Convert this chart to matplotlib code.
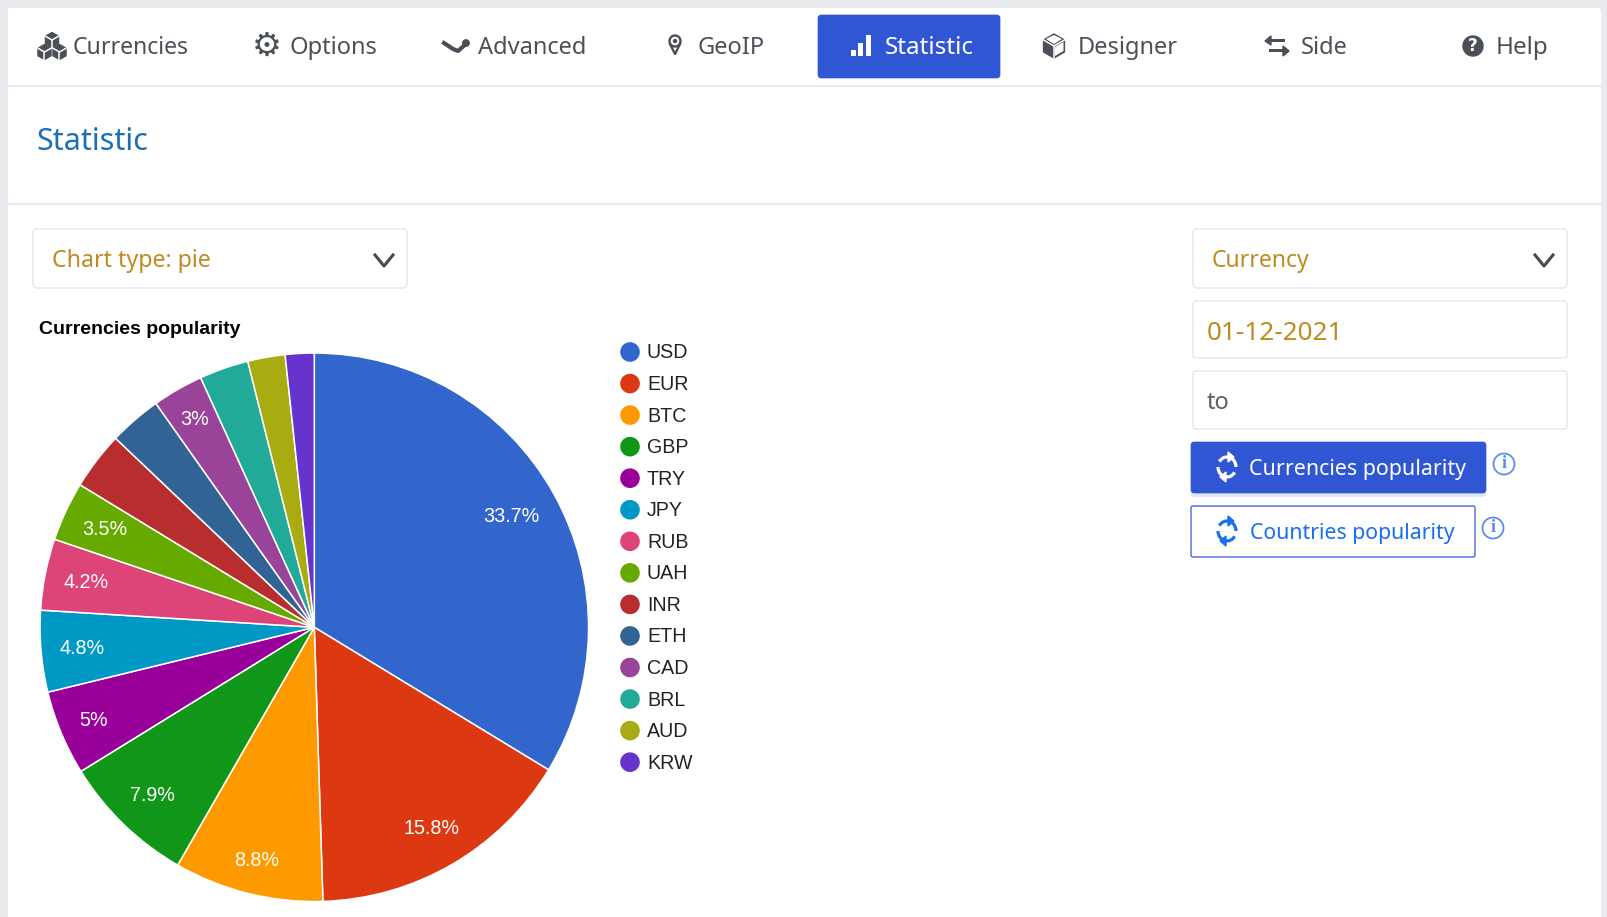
#!/usr/bin/env python

import numpy as np
import matplotlib
matplotlib.use("Agg")
import matplotlib.pyplot as plt
from matplotlib.patches import FancyBboxPatch, Rectangle, Circle, Polygon, Arc
from matplotlib.lines import Line2D

W, H = 1608, 917

currencies = ["USD", "EUR", "BTC", "GBP", "TRY", "JPY", "RUB", "UAH", "INR", "ETH", "CAD", "BRL", "AUD", "KRW"]
shares = [33.7, 15.8, 8.8, 7.9, 5.0, 4.8, 4.2, 3.5, 3.4, 3.1, 3.0, 2.9, 2.2, 1.7]
slice_labels = ["33.7%", "15.8%", "8.8%", "7.9%", "5%", "4.8%", "4.2%", "3.5%", "", "", "3%", "", "", ""]
colors = ["#3366cc", "#dc3912", "#ff9900", "#109618", "#990099", "#0099c6", "#dd4477",
          "#66aa00", "#b82e2e", "#316395", "#994499", "#22aa99", "#aaaa11", "#6633cc"]

tab_names = ["Currencies", "Options", "Advanced", "GeoIP", "Statistic", "Designer", "Side", "Help"]
tab_text_x = [73, 290, 478, 698, 885, 1077.5, 1301, 1496]
tab_icon_x = [52, 267, 456, 675, 862, 1054, 1277, 1473]
tab_font = [16.6, 17, 17, 17, 17.5, 17, 17, 17.4]

UI_FONT = "Noto Sans"
CHART_FONT = "Liberation Sans"
DARK = "#4b5058"
GOLD = "#bf8a1f"
BLUE = "#3056d3"
LINE = "#e2e4e8"


def box(ax, x0, y0, x1, y1, fc="white", ec=LINE, lw=0.9, r=3, z=2):
	p = FancyBboxPatch((x0 + r, y0 + r), x1 - x0 - 2 * r, y1 - y0 - 2 * r,
		boxstyle="round,pad=%d,rounding_size=%d" % (r, r), fc=fc, ec=ec, lw=lw, zorder=z)
	ax.add_patch(p)


def chevron(ax, x, y):
	ax.add_line(Line2D([x - 9, x, x + 9], [y - 5, y + 6, y - 5], color="#4a4a4a", lw=2.2, zorder=3))


def hexcube(ax, x, y, s, fc, ec="white"):
	pts = [(x, y - s), (x + s * .87, y - s / 2), (x + s * .87, y + s / 2),
		(x, y + s), (x - s * .87, y + s / 2), (x - s * .87, y - s / 2)]
	ax.add_patch(Polygon(pts, closed=True, fc=fc, ec=fc, lw=1, zorder=3))
	ax.add_line(Line2D([x - s * .87, x, x + s * .87], [y - s / 2, y, y - s / 2], color=ec, lw=1.1, zorder=4))
	ax.add_line(Line2D([x, x], [y, y + s], color=ec, lw=1.1, zorder=4))


def refresh(ax, x, y, color):
	for start, end in [(215, 360), (35, 180)]:
		ax.add_patch(Arc((x, y), 18, 20, theta1=start, theta2=end, color=color, lw=2.3, zorder=4))
	ax.add_patch(Polygon([(x + 1, y - 15), (x + 1, y - 5), (x + 7, y - 10)], closed=True, fc=color, ec=color, zorder=4))
	ax.add_patch(Polygon([(x - 1, y + 15), (x - 1, y + 5), (x - 7, y + 10)], closed=True, fc=color, ec=color, zorder=4))


def info(ax, x, y):
	ax.add_patch(Circle((x, y), 10.5, fc="none", ec="#5b8def", lw=1.3, zorder=3))
	ax.text(x, y, "i", color="#5b8def", fontsize=13, family="Liberation Serif", weight="bold",
		ha="center", va="center", zorder=4)


def draw_tab_icons(ax, y):
	# cubes
	hexcube(ax, tab_icon_x[0], y - 6, 7.5, DARK)
	hexcube(ax, tab_icon_x[0] - 7.5, y + 6, 7.5, DARK)
	hexcube(ax, tab_icon_x[0] + 7.5, y + 6, 7.5, DARK)
	# gear
	ax.text(tab_icon_x[1], y, "\u2699", color=DARK, fontsize=24, family="DejaVu Sans", ha="center", va="center", zorder=3)
	# advanced squiggle
	x = tab_icon_x[2]
	ax.add_line(Line2D([x - 12, x - 3, x + 2, x + 10], [y - 3, y + 3, y + 5, y - 2], color=DARK, lw=3, zorder=3))
	ax.add_patch(Circle((x + 10, y - 3), 3.2, fc=DARK, ec=DARK, zorder=3))
	# pin
	x = tab_icon_x[3]
	ax.add_patch(Circle((x, y - 5), 5.5, fc="white", ec=DARK, lw=1.7, zorder=3))
	ax.add_line(Line2D([x - 5, x, x + 5], [y - 2, y + 8, y - 2], color=DARK, lw=1.7, zorder=3))
	ax.add_patch(Circle((x, y - 5), 1.5, fc=DARK, ec=DARK, zorder=4))
	# bars on the active tab
	x = tab_icon_x[4]
	for dx, top in [(-8, y + 4), (-1, y - 3), (7, y - 11)]:
		ax.add_patch(Rectangle((x + dx - 3, top), 5.5, y + 10 - top, fc="white", ec="none", zorder=4))
	# cube
	x = tab_icon_x[5]
	hexcube(ax, x, y, 12, DARK)
	ax.add_patch(Polygon([(x + 1, y + 1), (x + 9.5, y - 4), (x + 9.5, y + 5), (x + 1, y + 10)], closed=True, fc="white", ec="none", zorder=5))
	ax.add_patch(Polygon([(x - 8, y - 7), (x, y - 11), (x + 8, y - 7), (x, y - 2)], closed=True, fc="white", ec="none", zorder=5))
	# swap arrows
	x = tab_icon_x[6]
	ax.add_patch(Rectangle((x - 8, y - 7), 16, 3.2, fc=DARK, zorder=3))
	ax.add_patch(Polygon([(x - 12, y - 5), (x - 6, y - 10), (x - 6, y - 1)], closed=True, fc=DARK, ec=DARK, zorder=3))
	ax.add_patch(Rectangle((x - 8, y + 3), 16, 3.2, fc=DARK, zorder=3))
	ax.add_patch(Polygon([(x + 12, y + 5), (x + 6, y), (x + 6, y + 10)], closed=True, fc=DARK, ec=DARK, zorder=3))
	# help
	x = tab_icon_x[7]
	ax.add_patch(Circle((x, y), 10, fc=DARK, ec=DARK, zorder=3))
	ax.text(x, y, "?", color="white", fontsize=12, family="DejaVu Sans", weight="bold", ha="center", va="center", zorder=4)


def main():
	fig = plt.figure(figsize=(W / 100, H / 100), dpi=100, facecolor="#e9ebee")
	ui = fig.add_axes([0, 0, 1, 1])
	ui.set_xlim(0, W)
	ui.set_ylim(H, 0)
	ui.axis("off")

	# page card and its dividers
	box(ui, 7, 7, 1602, H + 20, ec="#e3e5e8", lw=0.8, r=5, z=1)
	ui.add_line(Line2D([7, 1602], [86, 86], color=LINE, lw=1.1, zorder=2))
	ui.add_line(Line2D([7, 1602], [204, 204], color=LINE, lw=1.1, zorder=2))

	# tabs
	box(ui, 818, 15, 1000, 78, fc=BLUE, ec=BLUE, lw=0.5, r=3)
	for i, name in enumerate(tab_names):
		c = "white" if name == "Statistic" else DARK
		ui.text(tab_text_x[i], 48, name, color=c, fontsize=tab_font[i], family=UI_FONT, va="center", zorder=4)
	draw_tab_icons(ui, 46)

	ui.text(37, 142.5, "Statistic", color="#1f6fb5", fontsize=22, family=UI_FONT, va="center", zorder=3)

	# form fields
	box(ui, 33, 229, 407, 288)
	ui.text(52, 261, "Chart type: pie", color=GOLD, fontsize=16.7, family=UI_FONT, va="center", zorder=3)
	chevron(ui, 384, 260)
	box(ui, 1193, 229, 1567, 288)
	ui.text(1212, 261, "Currency", color=GOLD, fontsize=16.5, family=UI_FONT, va="center", zorder=3)
	chevron(ui, 1544, 260)
	box(ui, 1193, 301, 1567, 358)
	ui.text(1207, 333, "01-12-2021", color=GOLD, fontsize=18.8, family=UI_FONT, va="center", zorder=3)
	box(ui, 1193, 371, 1567, 429)
	ui.text(1207, 403, "to", color="#5a5f66", fontsize=17, family=UI_FONT, va="center", zorder=3)

	# buttons
	box(ui, 1191, 446, 1486, 497, fc="#e3e8f9", ec="none", r=3, z=1.5)
	box(ui, 1191, 442, 1486, 493, fc=BLUE, ec=BLUE, lw=0.5, r=3)
	refresh(ui, 1227, 467, "white")
	ui.text(1249.5, 469, "Currencies popularity", color="white", fontsize=15.4, family=UI_FONT, va="center", zorder=4)
	info(ui, 1504, 464)
	box(ui, 1191, 506, 1475, 557, ec=BLUE, lw=0.9, r=2)
	refresh(ui, 1227, 531, "#1a6ef0")
	ui.text(1250.5, 533, "Countries popularity", color="#1a6ef0", fontsize=15.3, family=UI_FONT, va="center", zorder=4)
	info(ui, 1493, 528)

	# chart
	ui.text(39, 330, "Currencies popularity", color="black", fontsize=14, family=CHART_FONT, weight="bold", va="center", zorder=4)

	cx, cy, r = 314.3, 627.3, 274.8
	pie_ax = fig.add_axes([(cx - r) / W, 1 - (cy + r) / H, 2 * r / W, 2 * r / H], zorder=5)
	pie_ax.patch.set_alpha(0)
	wedges, texts, autotexts = pie_ax.pie(shares, colors=colors, startangle=90, counterclock=False,
		radius=1, autopct="%g", wedgeprops={"edgecolor": "white", "linewidth": 1.1})

	# the label radius differs a bit from slice to slice
	label_radius = [0.825, 0.845, 0.873, 0.85, 0.873, 0.85, 0.848, 0.845, 0.85, 0.85, 0.878, 0.85, 0.85, 0.85]
	for w, t, label, lr in zip(wedges, autotexts, slice_labels, label_radius):
		mid = np.deg2rad((w.theta1 + w.theta2) / 2)
		t.set_position((lr * np.cos(mid), lr * np.sin(mid) - 0.002))
		t.set_text(label)
		t.set_color("white")
		t.set_fontsize(14.2)
		t.set_family(CHART_FONT)
	pie_ax.set_xlim(-1.002, 1.002)
	pie_ax.set_ylim(-1.002, 1.002)

	# legend
	for i, name in enumerate(currencies):
		y = 352 + i * 31.55
		ui.add_patch(Circle((630, y), 9.8, fc=colors[i], ec="none", zorder=4))
		ui.text(647, y + 1, name, color="#222222", fontsize=14.1, family=CHART_FONT, va="center", zorder=4)

	fig.savefig("out.png", dpi=100, facecolor=fig.get_facecolor())


if __name__ == "__main__":
	main()
